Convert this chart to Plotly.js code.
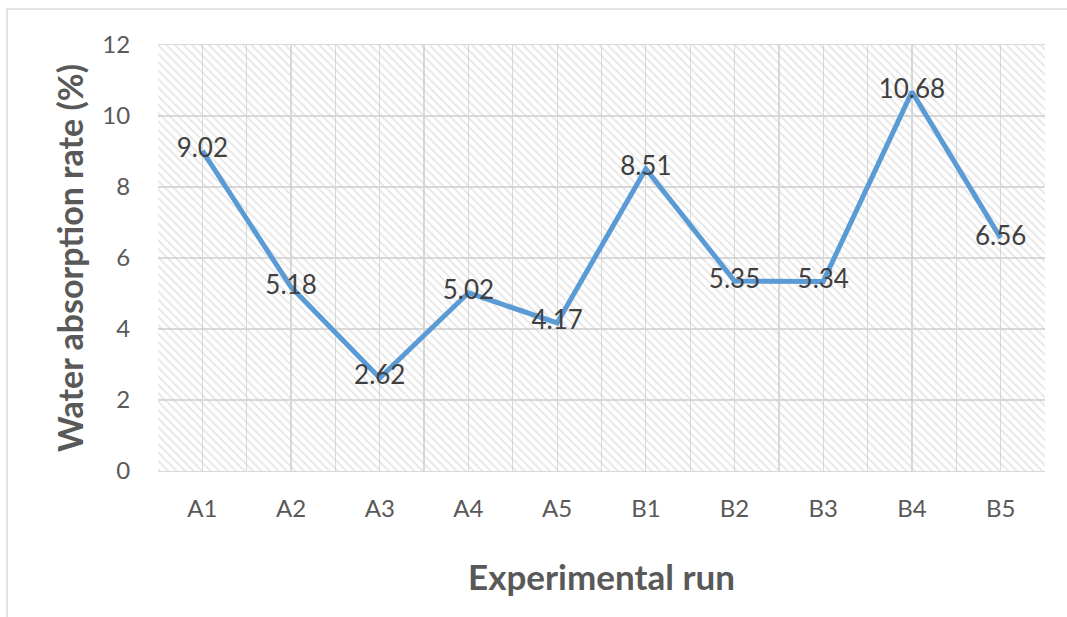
<!DOCTYPE html>
<html>
<head>
<meta charset="utf-8">
<script src="https://cdn.plot.ly/plotly-3.0.1.min.js"></script>
<style>html,body{margin:0;padding:0;background:#fff}#chart{width:1067px;height:617px}</style>
</head>
<body>
<div id="chart"></div>
<script>
// Data
var categories = ['A1','A2','A3','A4','A5','B1','B2','B3','B4','B5'];
var absorption = [9.02, 5.18, 2.62, 5.02, 4.17, 8.51, 5.35, 5.34, 10.68, 6.56];
var labels = ['9.02','5.18','2.62','5.02','4.17','8.51','5.35','5.34','10.68','6.56'];
var yTicks = [0, 2, 4, 6, 8, 10, 12];

var yMax = 12;
var FONT = 'Lato, "Open Sans", sans-serif';
var GRID = '#d9d9d9';

// hatched plot-area background (bars spanning each category, full height)
var bg = {
  type: 'bar',
  x: categories,
  y: categories.map(function(){ return yMax; }),
  width: 1,
  xaxis: 'x',
  yaxis: 'y',
  marker: {
    color: 'rgba(0,0,0,0)',
    line: {width: 0},
    pattern: {shape: '\\', fgcolor: '#cccccc', bgcolor: 'rgba(0,0,0,0)', size: 6, solidity: 0.3, fillmode: 'overlay'}
  },
  hoverinfo: 'skip',
  showlegend: false
};

var line = {
  type: 'scatter',
  mode: 'lines+text',
  x: categories,
  y: absorption,
  text: labels,
  textposition: 'middle center',
  textfont: {family: FONT, size: 26, color: '#404040'},
  xaxis: 'x2',
  yaxis: 'y',
  line: {color: '#5b9bd5', width: 5},
  cliponaxis: false,
  showlegend: false
};

var layout = {
  width: 1067,
  height: 617,
  margin: {l: 158, r: 22, t: 45, b: 146},
  paper_bgcolor: '#ffffff',
  plot_bgcolor: '#ffffff',
  font: {family: FONT, color: '#595959'},
  showlegend: false,
  bargap: 0,
  xaxis: {
    type: 'category',
    range: [-0.5, 9.5],
    tickson: 'boundaries',
    showgrid: true,
    gridcolor: GRID,
    gridwidth: 1.3,
    showticklabels: false,
    ticks: '',
    showline: true,
    mirror: true,
    linecolor: GRID,
    linewidth: 1.3,
    zeroline: false,
    fixedrange: true
  },
  xaxis2: {
    type: 'category',
    overlaying: 'x',
    side: 'bottom',
    range: [-0.5, 9.5],
    showgrid: true,
    gridcolor: GRID,
    gridwidth: 1.3,
    ticks: 'outside',
    ticklen: 16,
    tickcolor: 'rgba(0,0,0,0)',
    tickfont: {family: FONT, size: 24, color: '#595959'},
    showline: false,
    zeroline: false,
    title: {text: 'Experimental run', font: {family: FONT, size: 35, color: '#595959', weight: 'bold'}, standoff: 44},
    automargin: false
  },
  yaxis: {
    range: [0, yMax],
    tickvals: yTicks,
    ticktext: yTicks.map(String),
    showgrid: true,
    gridcolor: GRID,
    gridwidth: 1.3,
    zeroline: false,
    ticks: 'outside',
    ticklen: 22,
    tickcolor: 'rgba(0,0,0,0)',
    tickfont: {family: FONT, size: 24, color: '#595959'},
    title: {text: 'Water absorption rate (%)', font: {family: FONT, size: 34, color: '#595959', weight: 'bold'}, standoff: 8},
    automargin: false
  },
  shapes: [
    {type: 'rect', xref: 'paper', yref: 'paper', x0: -0.1702, x1: 1.2, y0: -0.6, y1: 1.0845,
     line: {color: '#d9d9d9', width: 1.5}, fillcolor: 'rgba(0,0,0,0)', layer: 'below'}
  ]
};

Plotly.newPlot('chart', [bg, line], layout, {displayModeBar: false, staticPlot: true});
</script>
</body>
</html>
